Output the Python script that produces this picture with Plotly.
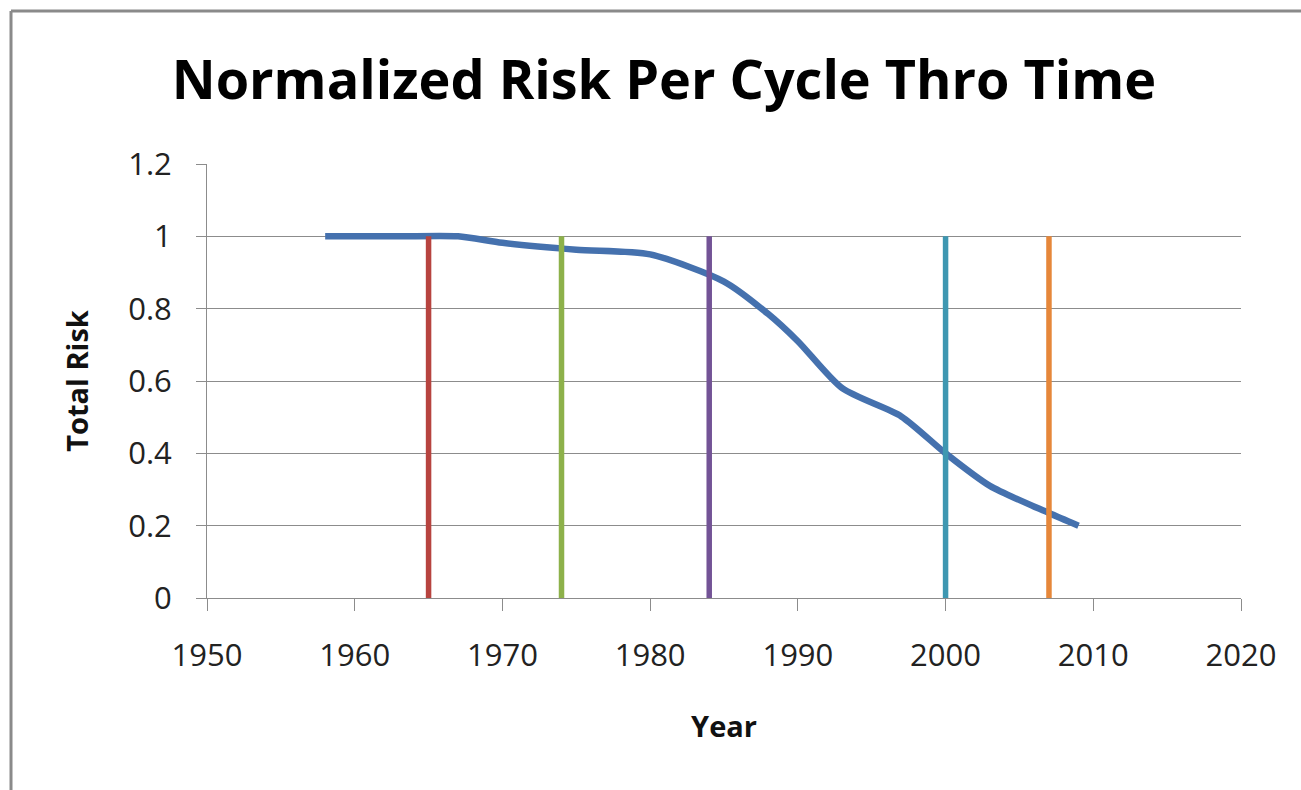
import plotly.graph_objects as go

# main curve
years = [1958, 1963, 1967, 1970, 1975, 1980, 1985, 1988, 1990, 1993, 1997, 2000, 2003, 2007, 2009]
risk = [1.0, 1.0, 1.0, 0.982, 0.963, 0.95, 0.875, 0.785, 0.71, 0.58, 0.502, 0.4, 0.31, 0.235, 0.2]

# vertical markers
event_years = [1965, 1974, 1984, 2000, 2007]
event_top = [1, 1, 1, 1, 1]
event_colors = ["#B7433F", "#8DB14A", "#735396", "#3E97B1", "#E6873A"]

x_ticks = [1950, 1960, 1970, 1980, 1990, 2000, 2010, 2020]
y_ticks = [0, 0.2, 0.4, 0.6, 0.8, 1, 1.2]
y_tick_text = ["0", "0.2", "0.4", "0.6", "0.8", "1", "1.2"]

fig = go.Figure()
fig.add_trace(
    go.Scatter(
        x=years,
        y=risk,
        mode="lines",
        line=dict(color="#4571AE", width=6.5, shape="spline", smoothing=0.7),
        showlegend=False,
    )
)
for yr, top, col in zip(event_years, event_top, event_colors):
    fig.add_trace(
        go.Scatter(
            x=[yr, yr],
            y=[0, top],
            mode="lines",
            line=dict(color=col, width=5.5),
            showlegend=False,
        )
    )

axis_col = "#8C8C8C"
tick_font = dict(family="Open Sans", size=31, color="#222222")

# body margin is removed in the page (post_script), so pixel = figure coord
W, H = 1301, 790
fig.update_layout(
    width=W,
    height=H,
    margin=dict(l=207, r=60, t=164, b=192),
    paper_bgcolor="white",
    plot_bgcolor="white",
    title=dict(
        text="<b>Normalized Risk Per Cycle Thro Time</b>",
        font=dict(family="Open Sans", size=54, color="black"),
        x=(664 - 207) / 1034,
        xref="paper",
        xanchor="center",
        y=1 - 80 / H,
        yanchor="middle",
    ),
    xaxis=dict(
        range=[1950, 2020],
        tickvals=x_ticks,
        ticks="outside",
        ticklen=12,
        tickcolor=axis_col,
        showline=True,
        linecolor=axis_col,
        showgrid=False,
        zeroline=False,
        tickfont=tick_font,
        ticklabelstandoff=18,
        title=dict(
            text="<b>Year</b>",
            font=dict(family="Open Sans", size=29, color="#111111"),
            standoff=42,
        ),
    ),
    yaxis=dict(
        range=[0, 1.2],
        tickvals=y_ticks,
        ticktext=y_tick_text,
        ticks="outside",
        ticklen=10,
        tickcolor=axis_col,
        showline=True,
        linecolor=axis_col,
        showgrid=True,
        gridcolor=axis_col,
        gridwidth=1,
        zeroline=False,
        tickfont=tick_font,
        ticklabelstandoff=18,
        title=dict(
            text="<b>Total Risk</b>",
            font=dict(family="Open Sans", size=29, color="#111111"),
            standoff=31,
        ),
    ),
)

# outer chart frame (left and top edges visible)
fx = (11 - 207) / 1034
fy = 1 + (164 - 11) / 434
fig.add_shape(type="line", xref="paper", yref="paper", x0=fx, x1=fx, y0=fy, y1=-1,
              line=dict(color="#8A8A8A", width=3))
fig.add_shape(type="line", xref="paper", yref="paper", x0=fx, x1=1.2, y0=fy, y1=fy,
              line=dict(color="#8A8A8A", width=3))

fig.write_html(
    "out.html",
    config={"displayModeBar": False},
    post_script="document.body.style.margin='0';document.body.style.overflow='hidden';",
)
